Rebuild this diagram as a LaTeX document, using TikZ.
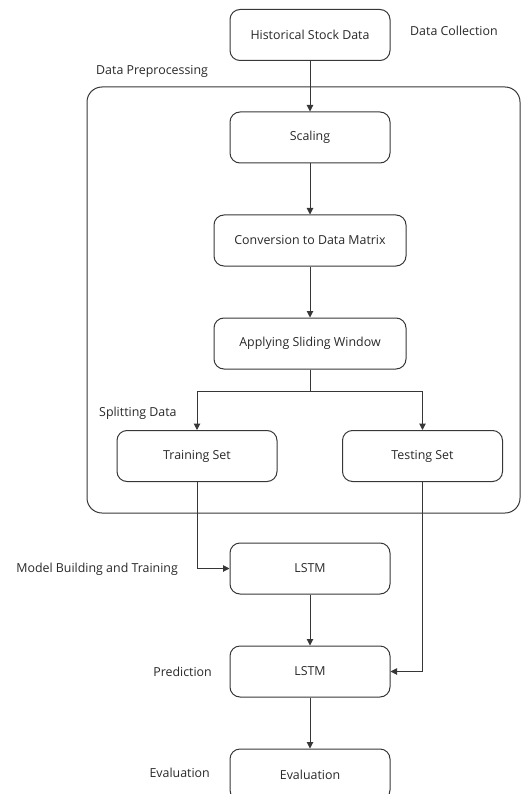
\documentclass[tikz,border=0pt]{standalone}
\usepackage{fontspec}
\setmainfont{Open Sans}
\usetikzlibrary{arrows.meta}
\definecolor{linegray}{RGB}{55,55,55}
\definecolor{textgray}{RGB}{40,40,40}

\begin{document}
\begin{tikzpicture}[
    x=1pt, y=-1pt,
    font=\fontsize{12.4}{14}\selectfont,
    text=textgray,
    step box/.style={rectangle,rounded corners=10pt,draw=linegray,line width=1pt,minimum width=160pt,minimum height=51pt,inner sep=0pt},
    wide box/.style={step box,minimum width=192pt},
    flow/.style={draw=linegray,line width=1pt,-{Triangle[length=6.5pt,width=6.5pt]}},
    stage/.style={inner sep=0pt},
]
\useasboundingbox (0,0) rectangle (521,794);

% preprocessing frame
\draw[draw=linegray,line width=1pt,rounded corners=15pt] (87,87) rectangle (520,513);

% main steps
\node[step box] (history) at (310,35) {Historical Stock Data};
\node[step box] (scaling) at (310,137.5) {Scaling};
\node[wide box] (matrix) at (310,240.5) {Conversion to Data Matrix};
\node[wide box] (window) at (310,343.5) {Applying Sliding Window};
\node[step box] (trainset) at (197,456) {Training Set};
\node[step box] (testset) at (422.5,456) {Testing Set};
\node[step box] (lstmtrain) at (310,568.5) {LSTM};
\node[step box] (lstmpredict) at (310,671.5) {LSTM};
\node[step box] (evaluation) at (310,774.5) {Evaluation};

% stage labels
\node[stage,anchor=west] (collectlabel) at (410,31) {Data Collection};
\node[stage,anchor=west] (preplabel) at (96,71) {Data Preprocessing};
\node[stage,anchor=west] (splitlabel) at (99,413) {Splitting Data};
\node[stage,anchor=east] (modellabel) at (178,569) {Model Building and Training};
\node[stage,anchor=east] (predictlabel) at (212,672) {Prediction};
\node[stage,anchor=east] (evallabel) at (210,773) {Evaluation};

% connectors
\draw[flow] (history) -- (scaling);
\draw[flow] (scaling) -- (matrix);
\draw[flow] (matrix) -- (window);
\coordinate (split) at (310,391);
\draw[flow] (window.south) -- (split) -| (trainset.north);
\draw[flow] (split) -| (testset.north);
\draw[flow] (trainset.south) |- (lstmtrain.west);
\draw[flow] (testset.south) |- (lstmpredict.east);
\draw[flow] (lstmtrain) -- (lstmpredict);
\draw[flow] (lstmpredict) -- (evaluation);
\end{tikzpicture}
\end{document}
